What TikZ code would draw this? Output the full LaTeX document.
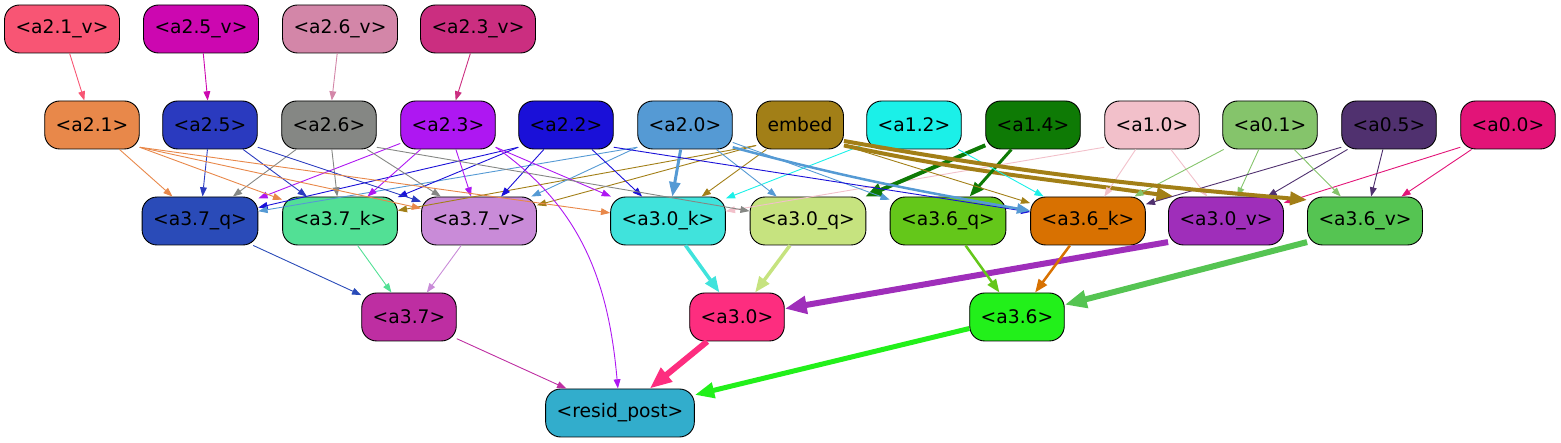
\documentclass[tikz,border=0pt]{standalone}
\usepackage{fontspec}
\setmainfont{DejaVu Sans}
\usepackage{tikz}
\usetikzlibrary{arrows.meta}

\definecolor{c21v}{HTML}{F85574}
\definecolor{c25v}{HTML}{CC07B0}
\definecolor{c26v}{HTML}{D386A8}
\definecolor{c23v}{HTML}{CB2E80}
\definecolor{c21}{HTML}{E8884A}
\definecolor{c25}{HTML}{2A3ABF}
\definecolor{c26}{HTML}{858784}
\definecolor{c23}{HTML}{AE17F2}
\definecolor{c22}{HTML}{1A10D8}
\definecolor{c20}{HTML}{559AD4}
\definecolor{cemb}{HTML}{A27F17}
\definecolor{c12}{HTML}{1BF0E8}
\definecolor{c14}{HTML}{0E7A05}
\definecolor{c10}{HTML}{F2C0CA}
\definecolor{c01}{HTML}{85C46B}
\definecolor{c05}{HTML}{50316F}
\definecolor{c00}{HTML}{E21478}
\definecolor{cq37}{HTML}{2A4BB8}
\definecolor{ck37}{HTML}{52E095}
\definecolor{cv37}{HTML}{C98BD8}
\definecolor{ck30}{HTML}{40E3DC}
\definecolor{cq30}{HTML}{C6E37F}
\definecolor{cq36}{HTML}{64C71A}
\definecolor{ck36}{HTML}{D87101}
\definecolor{cv30}{HTML}{9F2EBA}
\definecolor{cv36}{HTML}{55C452}
\definecolor{c37}{HTML}{BE2EA2}
\definecolor{c30}{HTML}{FD2D7F}
\definecolor{c36}{HTML}{22F01A}
\definecolor{cres}{HTML}{32ADCC}

\tikzstyle{unit}  = [rectangle, rounded corners=15pt, minimum height=48pt, inner xsep=11pt, text centered, draw=black, line width=0.9pt]
\tikzstyle{arrow} = [line width=0.9pt, ->, >={Triangle[length=7pt 2.5, width=5pt 2]}]
\tikzset{every node/.style={align=center, font=\fontsize{18.7}{22}\selectfont}}

\begin{document}
\begin{tikzpicture}[x=1pt, y=1pt]
    \useasboundingbox (0,0) rectangle (1561,443);

    \node (a21v) at (62,  414) [unit, fill=c21v] {<a2.1\_v>};
    \node (a25v) at (201, 414) [unit, fill=c25v] {<a2.5\_v>};
    \node (a26v) at (340, 414) [unit, fill=c26v] {<a2.6\_v>};
    \node (a23v) at (478, 414) [unit, fill=c23v] {<a2.3\_v>};

    \node (a21) at (92,   318) [unit, fill=c21]  {<a2.1>};
    \node (a25) at (210,  318) [unit, fill=c25]  {<a2.5>};
    \node (a26) at (329,  318) [unit, fill=c26]  {<a2.6>};
    \node (a23) at (448,  318) [unit, fill=c23]  {<a2.3>};
    \node (a22) at (566,  318) [unit, fill=c22]  {<a2.2>};
    \node (a20) at (685,  318) [unit, fill=c20]  {<a2.0>};
    \node (emb) at (800,  318) [unit, fill=cemb] {embed};
    \node (a12) at (914,  318) [unit, fill=c12]  {<a1.2>};
    \node (a14) at (1033, 318) [unit, fill=c14]  {<a1.4>};
    \node (a10) at (1152, 318) [unit, fill=c10]  {<a1.0>};
    \node (a01) at (1270, 318) [unit, fill=c01]  {<a0.1>};
    \node (a05) at (1389, 318) [unit, fill=c05]  {<a0.5>};
    \node (a00) at (1508, 318) [unit, fill=c00]  {<a0.0>};

    \node (q37) at (200,  222) [unit, fill=cq37] {<a3.7\_q>};
    \node (k37) at (340,  222) [unit, fill=ck37] {<a3.7\_k>};
    \node (v37) at (479,  222) [unit, fill=cv37] {<a3.7\_v>};
    \node (k30) at (668,  222) [unit, fill=ck30] {<a3.0\_k>};
    \node (q30) at (808,  222) [unit, fill=cq30] {<a3.0\_q>};
    \node (q36) at (948,  222) [unit, fill=cq36] {<a3.6\_q>};
    \node (k36) at (1088, 222) [unit, fill=ck36] {<a3.6\_k>};
    \node (v30) at (1226, 222) [unit, fill=cv30] {<a3.0\_v>};
    \node (v36) at (1365, 222) [unit, fill=cv36] {<a3.6\_v>};

    \node (a37) at (409,  126) [unit, fill=c37]  {<a3.7>};
    \node (a30) at (737,  126) [unit, fill=c30]  {<a3.0>};
    \node (a36) at (1017, 126) [unit, fill=c36]  {<a3.6>};

    \node (res) at (620,  30)  [unit, fill=cres] {<resid\_post>};

    % value inputs
    \draw [arrow, c21v] (a21v) -- (a21);
    \draw [arrow, c25v] (a25v) -- (a25);
    \draw [arrow, c26v] (a26v) -- (a26);
    \draw [arrow, c23v] (a23v) -- (a23);

    % layer 3.7
    \draw [arrow, c21] (a21) -- (q37);
    \draw [arrow, c25] (a25) -- (q37);
    \draw [arrow, c26] (a26) -- (q37);
    \draw [arrow, c23] (a23) -- (q37);
    \draw [arrow, c22] (a22.-155) -- (q37);
    \draw [arrow, c20] (a20.-155) -- (q37);
    \draw [arrow, c21] (a21.-25) -- (k37);
    \draw [arrow, c25] (a25) -- (k37);
    \draw [arrow, c26] (a26) -- (k37);
    \draw [arrow, c23] (a23) -- (k37);
    \draw [arrow, c22] (a22.-155) -- (k37);
    \draw [arrow, cemb] (emb.-155) -- (k37);
    \draw [arrow, c21] (a21.-25) -- (v37);
    \draw [arrow, c25] (a25.-25) -- (v37);
    \draw [arrow, c26] (a26) -- (v37);
    \draw [arrow, c23] (a23) -- (v37);
    \draw [arrow, c22] (a22) -- (v37);
    \draw [arrow, c20] (a20.-155) -- (v37);
    \draw [arrow, cemb] (emb.-155) -- (v37);

    % layer 3.0
    \draw [arrow, c21] (a21.-25) -- (k30);
    \draw [arrow, c23] (a23.-25) -- (k30);
    \draw [arrow, c22] (a22) -- (k30);
    \draw [arrow, c20, line width=3pt] (a20) -- (k30);
    \draw [arrow, cemb] (emb) -- (k30);
    \draw [arrow, c12] (a12) -- (k30);
    \draw [arrow, c10] (a10.-155) -- (k30);
    \draw [arrow, c26] (a26.-25) -- (q30);
    \draw [arrow, c20] (a20) -- (q30);
    \draw [arrow, c14, line width=4pt] (a14) -- (q30);
    \draw [arrow, cemb, line width=4pt] (emb.-25) to[out=-12, in=172] (v30.155);
    \draw [arrow, c10] (a10) -- (v30);
    \draw [arrow, c01] (a01) -- (v30);
    \draw [arrow, c05] (a05) -- (v30);
    \draw [arrow, c00] (a00.-155) -- (v30);

    % layer 3.6
    \draw [arrow, c20] (a20) -- (q36);
    \draw [arrow, c14, line width=3pt] (a14) -- (q36);
    \draw [arrow, c22] (a22.-25) -- (k36);
    \draw [arrow, c20, line width=2.5pt] (a20.-25) to[out=-15, in=170] (k36);
    \draw [arrow, cemb] (emb.-25) -- (k36);
    \draw [arrow, c12] (a12) -- (k36);
    \draw [arrow, c10] (a10) -- (k36);
    \draw [arrow, c01] (a01) -- (k36);
    \draw [arrow, c05] (a05.-155) -- (k36);
    \draw [arrow, cemb, line width=4pt] (emb.-20) to[out=-10, in=175] (v36.160);
    \draw [arrow, c01] (a01) -- (v36);
    \draw [arrow, c05] (a05) -- (v36);
    \draw [arrow, c00] (a00) -- (v36);

    % heads
    \draw [arrow, cq37] (q37) -- (a37);
    \draw [arrow, ck37] (k37) -- (a37);
    \draw [arrow, cv37] (v37) -- (a37);
    \draw [arrow, ck30, line width=3.5pt] (k30) -- (a30);
    \draw [arrow, cq30, line width=3.5pt] (q30) -- (a30);
    \draw [arrow, cv30, line width=6pt] (v30.-160) -- (a30);
    \draw [arrow, cq36, line width=2.5pt] (q36) -- (a36);
    \draw [arrow, ck36, line width=2.5pt] (k36) -- (a36);
    \draw [arrow, cv36, line width=6pt] (v36.-160) -- (a36);

    % residual
    \draw [arrow, c37] (a37) -- (res);
    \draw [arrow, c23] (a23.-25) to[out=-35, in=95] (res);
    \draw [arrow, c30, line width=6pt] (a30) -- (res);
    \draw [arrow, c36, line width=5pt] (a36) -- (res);
\end{tikzpicture}
\end{document}
